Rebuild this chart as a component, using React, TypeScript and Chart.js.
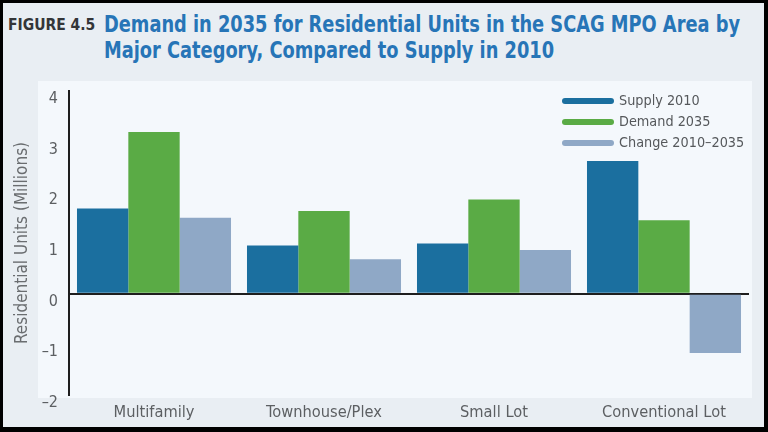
import React, { useEffect, useRef } from "react";
import { Chart, registerables } from "chart.js";

Chart.register(...registerables);

const categories = ["Multifamily", "Townhouse/Plex", "Small Lot", "Conventional Lot"];
const supply2010 = [1.68, 0.95, 0.99, 2.62];
const demand2035 = [3.19, 1.63, 1.86, 1.45];
const change20102035 = [1.5, 0.68, 0.86, -1.17];
const seriesLabels = ["Supply 2010", "Demand 2035", "Change 2010–2035"];
const seriesColors = ["#1b6f9f", "#5aab45", "#8fa8c6"];
const yMin = -2;
const yMax = 4;

const FONT = "'DejaVu Sans Condensed', 'Liberation Sans Narrow', 'DejaVu Sans', sans-serif";

const insideLegend = {
  id: "insideLegend",
  afterDraw(chart: any) {
    const { ctx, chartArea } = chart;
    const x0 = chartArea.right - 187;
    const y0 = chartArea.top + 10;
    chart.data.datasets.forEach((ds: any, i: number) => {
      const y = y0 + i * 21;
      ctx.save();
      ctx.strokeStyle = ds.backgroundColor;
      ctx.lineWidth = 6;
      ctx.lineCap = "round";
      ctx.beginPath();
      ctx.moveTo(x0 + 3, y);
      ctx.lineTo(x0 + 49, y);
      ctx.stroke();
      ctx.fillStyle = "#55585b";
      ctx.font = "14.3px " + FONT;
      ctx.textBaseline = "middle";
      ctx.textAlign = "left";
      ctx.fillText(ds.label, x0 + 57, y);
      ctx.restore();
    });
  },
};

export default function App() {
  const canvasRef = useRef<HTMLCanvasElement | null>(null);

  useEffect(() => {
    if (!canvasRef.current) return;
    const values = [supply2010, demand2035, change20102035];
    const chart = new Chart(canvasRef.current, {
      type: "bar",
      data: {
        labels: categories,
        datasets: values.map((v, i) => ({
          label: seriesLabels[i],
          data: v,
          backgroundColor: seriesColors[i],
          borderWidth: 0,
          categoryPercentage: 0.906,
          barPercentage: 1.0,
        })),
      },
      options: {
        animation: false,
        responsive: true,
        maintainAspectRatio: false,
        layout: { padding: { left: 0, right: 19, top: 0, bottom: 5 } },
        plugins: {
          legend: { display: false },
          tooltip: { enabled: false },
          title: { display: false },
        },
        scales: {
          x: {
            grid: { display: false, drawTicks: false },
            border: { display: false },
            ticks: {
              color: "#5c5f62",
              font: { family: FONT, size: 16.3 },
              padding: 8,
            },
            afterFit: (scale: any) => {
              scale.height = 32;
            },
          },
          y: {
            min: yMin,
            max: yMax,
            grid: {
              display: true,
              drawTicks: false,
              lineWidth: 2,
              color: (c: any) => (c.tick && c.tick.value === 0 ? "#1e1e1e" : "rgba(0,0,0,0)"),
            },
            border: { display: true, color: "#1e1e1e", width: 2 },
            ticks: {
              stepSize: 1,
              color: "#5c5f62",
              font: { family: FONT, size: 16 },
              padding: 11,
              labelOffset: 8,
              callback: (v: any) => (Number(v) < 0 ? "–" + Math.abs(Number(v)) : String(v)),
            },
            title: {
              display: true,
              text: "Residential Units (Millions)",
              color: "#6a6d70",
              font: { family: FONT, size: 17, weight: "normal" },
              padding: { top: 12, bottom: 0 },
            },
            afterFit: (scale: any) => {
              scale.width = 69;
              scale.paddingTop = 11;
              scale.paddingBottom = 0;
            },
          },
        },
      },
      plugins: [insideLegend],
    });
    return () => chart.destroy();
  }, []);

  return (
    <div
      style={{
        position: "fixed",
        left: 0,
        top: 0,
        width: 768,
        height: 432,
        background: "#000",
        overflow: "hidden",
      }}
    >
      <div
        style={{
          position: "absolute",
          left: 3,
          top: 3,
          width: 761,
          height: 424,
          background: "#e9eef3",
        }}
      />
      <div
        style={{
          position: "absolute",
          left: 38,
          top: 81,
          width: 714,
          height: 317,
          background: "#f4f8fc",
        }}
      />
      <div
        style={{
          position: "absolute",
          left: 8,
          top: 15,
          fontFamily: FONT,
          fontWeight: "bold",
          fontSize: 15.5,
          lineHeight: "20px",
          color: "#333538",
          whiteSpace: "nowrap",
        }}
      >
        FIGURE 4.5
      </div>
      <div
        style={{
          position: "absolute",
          left: 104,
          top: 11,
          fontFamily: FONT,
          fontWeight: "bold",
          fontSize: 23,
          lineHeight: "26px",
          color: "#2775b7",
          whiteSpace: "nowrap",
          transform: "scaleX(0.86)",
          transformOrigin: "left top",
        }}
      >
        Demand in 2035 for Residential Units in the SCAG MPO Area by
        <br />
        Major Category, Compared to Supply in 2010
      </div>
      <div style={{ position: "absolute", left: 0, top: 80, width: 768, height: 352 }}>
        <canvas ref={canvasRef} />
      </div>
    </div>
  );
}
